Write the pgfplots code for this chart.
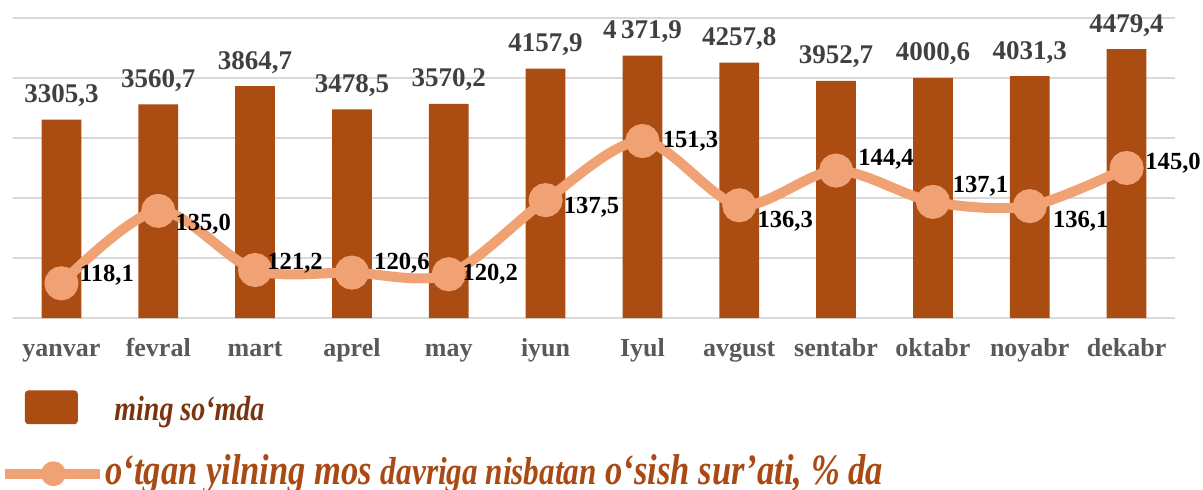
\documentclass[border=0pt]{standalone}
\usepackage{fontspec}
\setmainfont{Liberation Serif}
\newfontfamily\legfont[FakeStretch=0.8]{Liberation Serif}
\usepackage{pgfplots}
\usepackage{pgfplotstable}
\pgfplotsset{compat=1.18}

\definecolor{barc}{HTML}{AB4C13}
\definecolor{linec}{HTML}{F0A274}
\definecolor{gridc}{HTML}{D9D9D9}
\definecolor{valc}{HTML}{404040}
\definecolor{tickc}{HTML}{595959}
\definecolor{legA}{HTML}{7A3410}
\definecolor{legB}{HTML}{A94A14}

% ming so'mda
\pgfplotstableread[col sep=semicolon]{
x;y;lab
0;3305.3;3305,3
1;3560.7;3560,7
2;3864.7;3864,7
3;3478.5;3478,5
4;3570.2;3570,2
5;4157.9;4157,9
6;4371.9;4\,371,9
7;4257.8;4257,8
8;3952.7;3952,7
9;4000.6;4000,6
10;4031.3;4031,3
11;4479.4;4479,4
}\barsdata

% o'sish sur'ati, %
\pgfplotstableread{
x y
0 118.1
1 135.0
2 121.2
3 120.6
4 120.2
5 137.5
6 151.3
7 136.3
8 144.4
9 137.1
10 136.1
11 145.0
}\ratedata

% one label of the rate line, shifted by (#1,#2)
\pgfplotsset{ratelab/.style 2 args={draw=none, forget plot,
    point meta=explicit symbolic, nodes near coords,
    nodes near coords style={anchor=center, inner sep=0pt,
        xshift=#1, yshift=#2,
        text=black, font=\fontsize{12.3}{14}\selectfont\bfseries}}}

\begin{document}
\begin{tikzpicture}
\path[use as bounding box] (0,0) rectangle (601.5pt,244.5pt);

\begin{axis}[
    at={(6.5pt,85.5pt)}, anchor=south west,
    scale only axis,
    width=581pt, height=150pt,
    xmin=-0.5, xmax=11.5,
    ymin=0, ymax=5000,
    ytick={0,1000,...,5000},
    yticklabels={},
    ymajorgrids,
    major grid style={draw=gridc, line width=0.75pt},
    axis line style={draw=none},
    major tick length=0pt,
    xtick={0,...,11},
    xticklabels={yanvar,fevral,mart,aprel,may,iyun,Iyul,avgust,sentabr,oktabr,noyabr,dekabr},
    xticklabel style={anchor=base, yshift=-19pt, text=tickc,
        font=\fontsize{13}{15}\selectfont\bfseries},
]
\addplot[ybar, bar width=0.41, fill=barc, draw=none,
    point meta=explicit symbolic,
    nodes near coords,
    nodes near coords style={anchor=base, inner sep=0pt, yshift=8.5pt,
        text=valc, font=\fontsize{13.5}{15}\selectfont\bfseries},
] table[x=x, y=y, meta=lab] {\barsdata};
\end{axis}

\begin{axis}[
    at={(6.5pt,85.5pt)}, anchor=south west,
    scale only axis,
    width=581pt, height=150pt,
    xmin=-0.5, xmax=11.5,
    ymin=110, ymax=180,
    hide axis,
    clip=false,
    legend style={at={(-0.0112,-0.24)}, anchor=north west, draw=none, fill=none,
        inner sep=0pt, row sep=15pt,
        nodes={inner sep=0pt, anchor=west},
        font=\legfont\bfseries\itshape},
    legend cell align=left,
]
\addlegendimage{legend image code/.code={
    \path[draw=none] (0pt,0pt) -- (50pt,0pt);
    \fill[barc, rounded corners=1.5pt] (10pt,-8.25pt) rectangle (36pt,8.25pt);}}
\addlegendentry{\hspace{4.5pt}\raisebox{-2.5pt}{\fontsize{17.5}{19}\selectfont\textcolor{legA}{ming so‘mda}}}
\addlegendimage{legend image code/.code={
    \draw[linec, line width=5pt] (0pt,0pt) -- (47.5pt,0pt);
    \fill[linec] (24pt,0pt) circle (6pt);
    \path[draw=none] (0pt,0pt) -- (50pt,0pt);}}
\addlegendentry{\raisebox{3pt}{\fontsize{21.6}{23}\selectfont\textcolor{legB}{o‘tgan yilning mos {\fontsize{19.5}{21}\selectfont davriga nisbatan} o‘sish sur’ati, \% da}}}

\addplot[linec, line width=5pt, smooth,
    mark=*, mark size=6pt, mark options={fill=linec, draw=none},
    forget plot,
] table[x=x, y=y] {\ratedata};

\addplot[ratelab={22.75pt}{4pt}]    coordinates {(0,118.1) [118,1]};
\addplot[ratelab={22.5pt}{-6.5pt}]  coordinates {(1,135.0) [135,0]};
\addplot[ratelab={20pt}{3.5pt}]     coordinates {(2,121.2) [121,2]};
\addplot[ratelab={25pt}{4.5pt}]     coordinates {(3,120.6) [120,6]};
\addplot[ratelab={20.75pt}{0pt}]    coordinates {(4,120.2) [120,2]};
\addplot[ratelab={23pt}{-3.5pt}]    coordinates {(5,137.5) [137,5]};
\addplot[ratelab={24pt}{0pt}]       coordinates {(6,151.3) [151,3]};
\addplot[ratelab={23pt}{-8pt}]      coordinates {(7,136.3) [136,3]};
\addplot[ratelab={25pt}{5.5pt}]     coordinates {(8,144.4) [144,4]};
\addplot[ratelab={23.75pt}{8pt}]    coordinates {(9,137.1) [137,1]};
\addplot[ratelab={25.5pt}{-7.5pt}]  coordinates {(10,136.1) [136,1]};
\addplot[ratelab={23.25pt}{2.5pt}]  coordinates {(11,145.0) [145,0]};
\end{axis}
\end{tikzpicture}
\end{document}
